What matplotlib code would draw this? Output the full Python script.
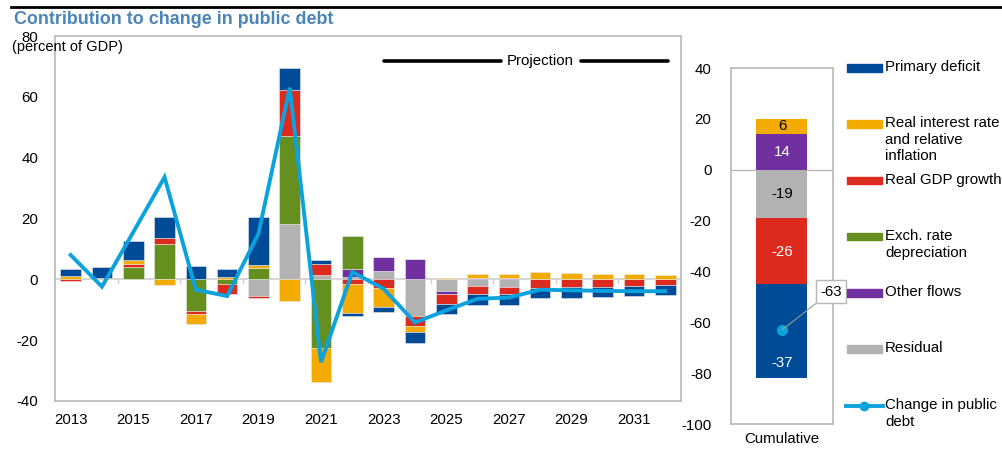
import numpy as np
import matplotlib.pyplot as plt
from matplotlib.patches import Rectangle
from matplotlib.lines import Line2D

plt.rcParams['font.family'] = ['Liberation Sans', 'DejaVu Sans']
plt.rcParams['axes.unicode_minus'] = False

years = list(range(2013, 2033))
primary  = [2.2, 3.7, 6.1, 6.9, 4.4, 2.5, 15.8, 7.3, 1.3, -1.0, -1.9, -3.5, -3.3, -3.4, -3.4, -3.6, -3.4, -3.4, -3.3, -3.3]
interest = [1.1, 0.4, 1.5, -1.75, -3.2, 0.8, 1.1, -7.0, -11.3, -9.4, -6.2, -1.9, 0.4, 1.3, 1.6, 2.4, 2.2, 1.9, 1.8, 1.5]
gdp      = [-0.6, 0.0, 0.9, 2.2, -1.0, -3.5, -0.7, 15.3, 3.8, -1.6, -2.8, -3.3, -3.1, -2.6, -2.4, -2.7, -2.6, -2.4, -2.2, -2.0]
exch     = [0.0, 0.0, 4.05, 11.5, -10.5, -1.4, 3.7, 28.8, -22.5, 10.7, 0, 0, 0, 0, 0, 0, 0, 0, 0, 0]
other    = [0, 0, 0, 0, 0, 0, 0, 0, 0, 2.7, 4.7, 6.6, -1.1, 0.3, 0.3, 0, 0, 0, 0, 0]
resid    = [0, 0, 0, 0, 0, 0, -5.5, 18.2, 1.3, 0.8, 2.6, -12.2, -3.8, -2.3, -2.5, 0, 0, 0, 0, 0]
change   = [8.0, -2.4, 15.5, 33.6, -3.4, -5.5, 15.0, 63.0, -27.2, 2.4, -3.1, -14.2, -10.2, -6.4, -6.0, -3.4, -3.6, -3.8, -3.9, -3.9]

names = ['Primary deficit', 'Real interest rate\nand relative\ninflation', 'Real GDP growth',
         'Exch. rate\ndepreciation', 'Other flows', 'Residual']
colors = ['#004b97', '#f3ab00', '#dc2a1f', '#65901f', '#7030a0', '#b2b2b2']
line_color = '#0ca2dd'

cum_vals = [-37, 6, -26, 0, 14, -19]
cum_change = -63

grid_c = '#b7b7b7'
fs = 10.8

fig = plt.figure(figsize=(10.03, 4.49), dpi=100)

# title
fig.add_artist(Line2D([11/1003, 1], [1-7/449, 1-7/449], color='black', lw=2))
fig.text(14/1003, 1-19/449, 'Contribution to change in public debt', color='#4b84b6',
         fontsize=12.9, fontweight='bold', va='center', ha='left')

# main panel
ax = fig.add_axes([55/1003, 1-401/449, 626/1003, 365/449])
x = np.arange(len(years))
series = [primary, interest, gdp, exch, other, resid]
pos_base = np.zeros(len(years))
neg_base = np.zeros(len(years))
for i in [5, 4, 3, 2, 1, 0]:
    v = np.array(series[i], dtype=float)
    base = np.where(v >= 0, pos_base, neg_base)
    ax.bar(x, v, 0.66, bottom=base, color=colors[i], edgecolor='#e8e8e8', linewidth=0.4, zorder=2)
    pos_base += np.where(v >= 0, v, 0)
    neg_base += np.where(v < 0, v, 0)
ax.plot(x, change, color=line_color, lw=2.8, zorder=3, solid_joinstyle='miter')

ax.axhline(0, color='#d0d0d0', lw=1.2, zorder=1)
for t in np.arange(1.5, len(years), 2):
    ax.plot([t, t], [0, -1.2], color='#d0d0d0', lw=1, zorder=1)
ax.set_xlim(-0.5, len(years) - 0.5)
ax.set_ylim(-40, 80)
ax.set_yticks(range(-40, 81, 20))
ax.set_xticks(x[::2])
ax.set_xticklabels([str(y) for y in years[::2]])
ax.tick_params(length=0, labelsize=fs, colors='black')
ax.tick_params(axis='x', pad=9)
ax.tick_params(axis='y', pad=12)
for s in ax.spines.values():
    s.set_color(grid_c)
    s.set_linewidth(1.2)
fig.text(12/1003, 1-47/449, '(percent of GDP)', fontsize=10.5, va='center', ha='left')

# projection marker
ax.plot([10.0, 13.75], [71.7, 71.7], color='black', lw=2.6, solid_capstyle='round')
ax.plot([16.3, 19.1], [71.7, 71.7], color='black', lw=2.6, solid_capstyle='round')
ax.text(15.0, 71.7, 'Projection', ha='center', va='center', fontsize=fs)

# cumulative panel
ax2 = fig.add_axes([731/1003, 1-424/449, 102/1003, 356/449])
pb, nb = 0.0, 0.0
for i in [5, 4, 3, 2, 1, 0]:
    v = cum_vals[i]
    if v == 0:
        continue
    b = pb if v > 0 else nb
    ax2.bar(0, v, 0.5, bottom=b, color=colors[i], zorder=2)
    if v > 0:
        pb += v
    else:
        nb += v
lab = [('6', 17, 'black'), ('14', 7, 'white'), ('-19', -9.5, 'black'), ('-26', -32.5, 'white'), ('-37', -76, 'white')]
for t, yv, c in lab:
    ax2.text(0, yv, t, ha='center', va='center', color=c, fontsize=fs, zorder=4)
ax2.plot([0], [cum_change], 'o', color=line_color, ms=7, zorder=4)
ax2.annotate(str(cum_change), xy=(0, cum_change), xytext=(0.48, -48), ha='center', va='center',
             fontsize=fs, zorder=5, annotation_clip=False,
             bbox=dict(boxstyle='square,pad=0.3', fc='white', ec=grid_c, lw=1),
             arrowprops=dict(arrowstyle='-', color='#999999', lw=0.8, shrinkA=0, shrinkB=0))
ax2.axhline(0, color=grid_c, lw=1, zorder=1)
ax2.set_xlim(-0.5, 0.5)
ax2.set_ylim(-100, 40)
ax2.set_yticks(range(-100, 41, 20))
ax2.set_xticks([0])
ax2.set_xticklabels(['Cumulative'])
ax2.tick_params(length=0, labelsize=fs)
ax2.tick_params(axis='y', pad=14)
ax2.tick_params(axis='x', pad=6)
for s in ax2.spines.values():
    s.set_color(grid_c)
    s.set_linewidth(1.2)

# legend
ys = [68, 124, 181, 237, 293, 349]
for i, yy in enumerate(ys):
    fy = 1 - yy/449
    fig.add_artist(Rectangle((847/1003, fy - 3.5/449), 35/1003, 7.5/449, color=colors[i], transform=fig.transFigure))
    fig.text(885/1003, fy + 8/449, names[i], fontsize=fs, va='top', ha='left', linespacing=1.25)
fy = 1 - 406/449
fig.add_artist(Line2D([846/1003, 883/1003], [fy, fy], color=line_color, lw=2.8, transform=fig.transFigure))
fig.add_artist(Line2D([864/1003], [fy], color=line_color, marker='o', ms=6, transform=fig.transFigure))
fig.text(885/1003, fy + 8/449, 'Change in public\ndebt', fontsize=fs, va='top', ha='left', linespacing=1.25)

fig.savefig('out.png', dpi=100)
